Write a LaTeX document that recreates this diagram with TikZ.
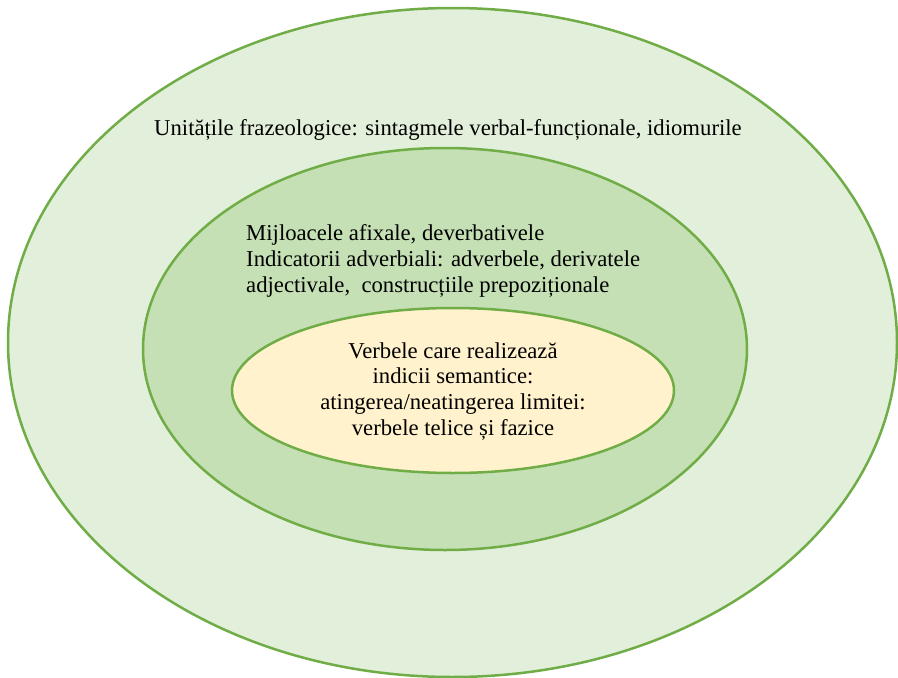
\documentclass[tikz,border=0pt]{standalone}
\usepackage{fontspec}
\setmainfont{Liberation Serif}
\usetikzlibrary{shapes.geometric}
\definecolor{ringline}{HTML}{70AD47}
\definecolor{outerfill}{HTML}{E2EFDA}
\definecolor{midfill}{HTML}{C5E0B4}
\definecolor{innerfill}{HTML}{FFF2CC}
\tikzset{
  ring/.style={ellipse, draw=ringline, line width=2.5pt, inner sep=0pt, outer sep=0pt},
  lbl/.style={inner sep=0pt, font=\fontsize{22.7}{26}\selectfont, text=black},
}
\begin{document}
\begin{tikzpicture}[x=1pt,y=-1pt]
\useasboundingbox (0,0) rectangle (898,678);
\fill[white] (0,0) rectangle (898,678);
\node[ring, fill=outerfill, minimum width=889pt, minimum height=669pt] (outer) at (452.5,342.5) {};
\node[ring, fill=midfill, minimum width=604pt, minimum height=402pt] (middle) at (445,349) {};
\node[ring, fill=innerfill, minimum width=442pt, minimum height=165pt] (inner) at (453,390.5) {};
\node[lbl, anchor=base west] (t1) at (154,135) {Unitățile frazeologice: sintagmele verbal-funcționale, idiomurile};
\node[lbl, anchor=base west] (m1) at (246,240) {Mijloacele afixale, deverbativele};
\node[lbl, anchor=base west] (m2) at (246,266) {Indicatorii adverbiali: adverbele, derivatele};
\node[lbl, anchor=base west] (m3) at (246,292) {adjectivale,\ \ construcțiile prepoziționale};
\node[lbl, anchor=base] (i1) at (453,358) {Verbele care realizează};
\node[lbl, anchor=base] (i2) at (453,383.5) {indicii semantice:};
\node[lbl, anchor=base] (i3) at (453,409.5) {atingerea/neatingerea limitei:};
\node[lbl, anchor=base] (i4) at (453,435) {verbele telice și fazice};
\end{tikzpicture}
\end{document}
